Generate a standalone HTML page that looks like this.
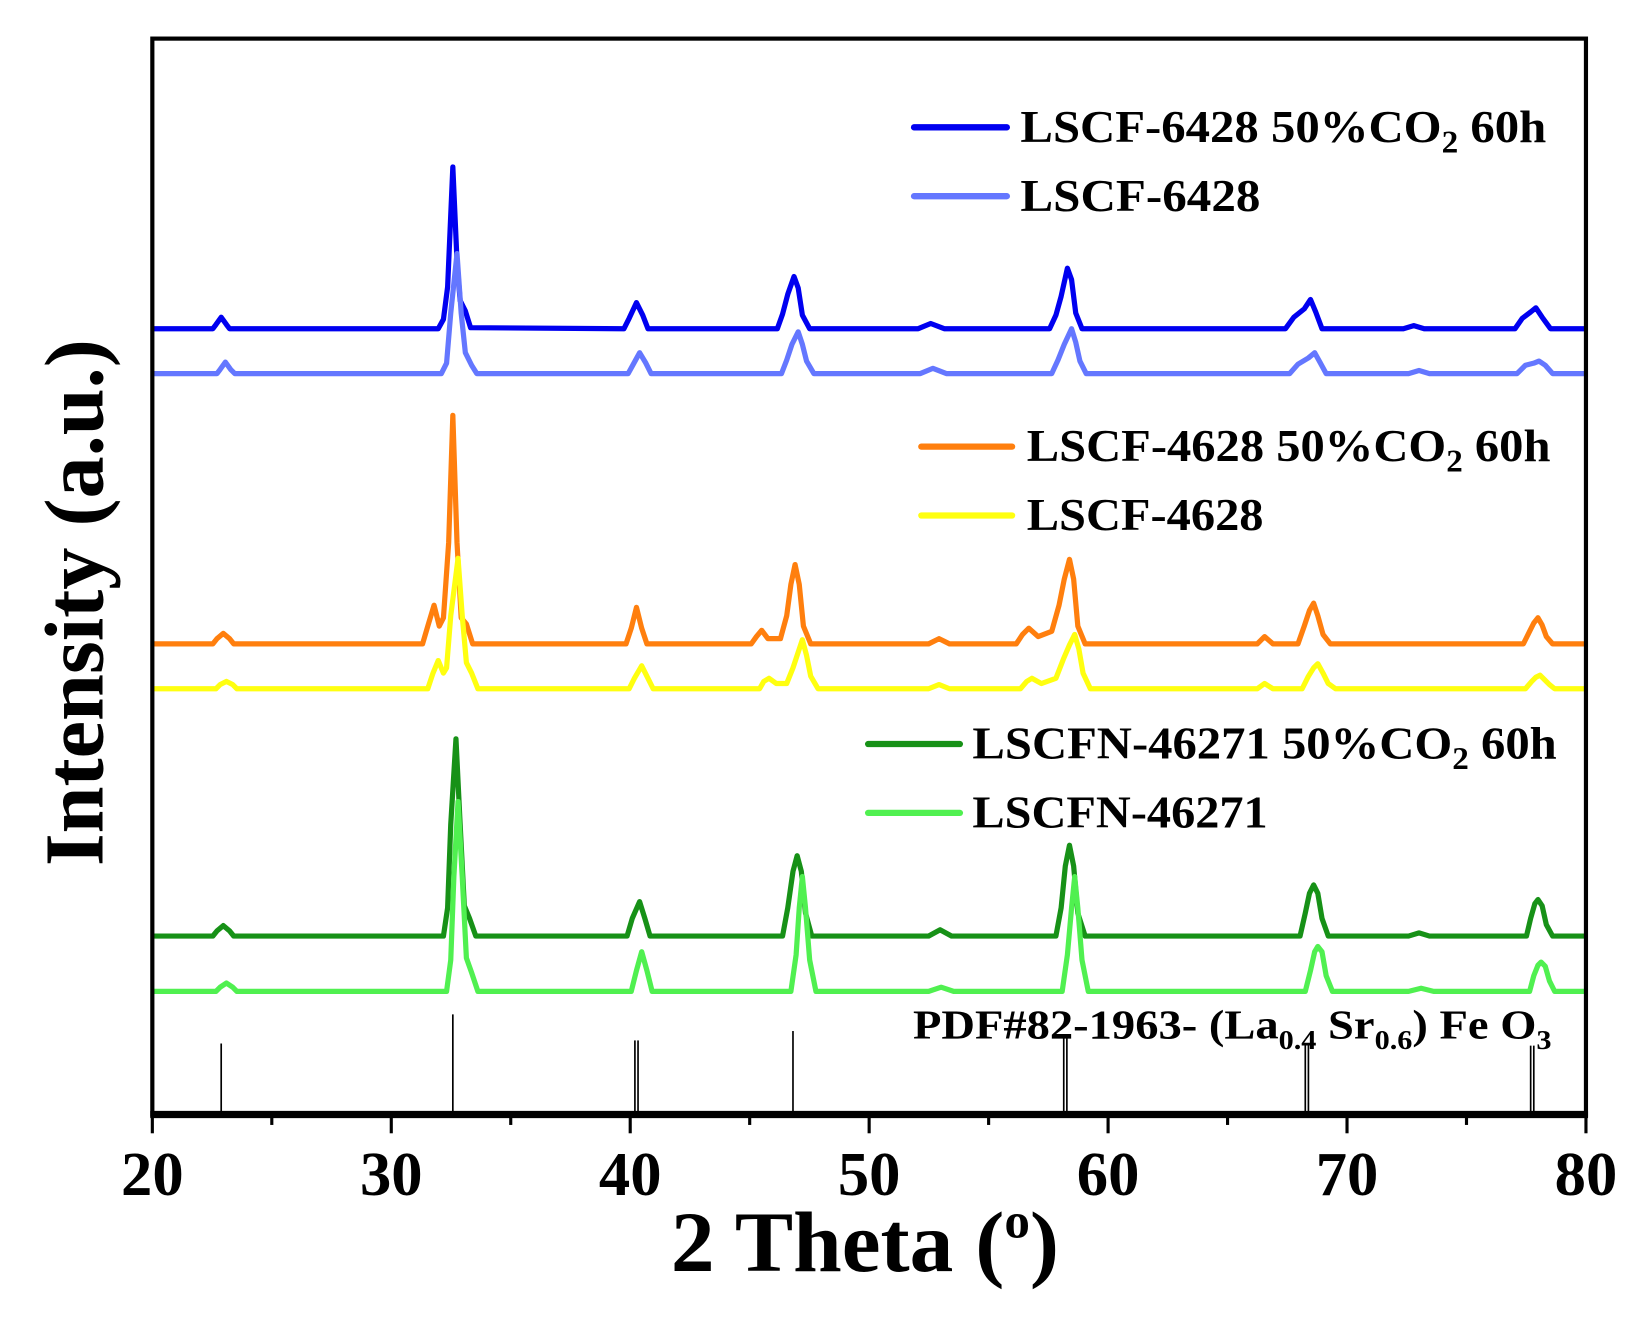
<!DOCTYPE html>
<html><head><meta charset="utf-8"><style>
html,body{margin:0;padding:0;background:#fff;}
svg{display:block;}
text{font-family:"Liberation Serif",serif;font-weight:bold;fill:#000;}
</style></head><body>
<svg width="1635" height="1318" viewBox="0 0 1567 1263" preserveAspectRatio="none" xmlns="http://www.w3.org/2000/svg">
<g fill="none" stroke-width="5" stroke-linejoin="round">
<path stroke="#0000f0" d="M146,315 L204,315 207,311 212,304 217,311 220,315 L420,315 425,306 429,275 434,160 438,250 441,288 446,298 451,314 L598,315 603,305 610,290 616,302 621,315 L745,315 750,301 755,282 761,265 765,276 769,302 776,315 L880,315 892,310 905,315 L1006,315 1012,302 1017,284 1023,257 1027,268 1031,300 1037,315 L1232,315 1240,304 1250,296 1256,287 1261,299 1267,315 L1345,315 1355,312 1365,315 L1452,315 1459,305 1467,299 1472,295 1478,304 1486,315 L1520,315"/>
<path stroke="#6477ff" d="M146,358 L208,358 211,354 216,347 221,354 225,358 L423,358 428,348 432,300 438,243 442,300 446,338 452,350 457,358 L602,358 607,349 613,338 619,348 624,358 L749,358 754,345 759,330 765,318 769,330 773,346 780,358 L882,358 894,353 907,358 L1008,358 1014,345 1020,330 1027,315 1031,328 1035,346 1041,358 L1236,358 1244,349 1254,343 1260,338 1265,347 1271,358 L1350,358 1360,355 1370,358 L1454,358 1462,350 1470,348 1475,346 1481,350 1488,358 L1520,358"/>
<path stroke="#ff7f0e" d="M146,617 L204,617 208,612 214,607 220,612 224,617 L405,617 410,600 416,580 421,600 425,592 430,520 434,398 438,520 442,592 447,598 453,617 L600,617 605,602 610,582 615,602 620,617 L720,617 725,610 730,604 736,612 748,612 754,590 758,560 762,541 766,560 770,600 777,617 L890,617 900,612 910,617 L974,617 980,608 986,602 995,610 1008,605 1015,580 1020,555 1025,536 1029,555 1033,600 1040,617 L1205,617 1212,610 1220,617 L1244,617 1250,600 1255,585 1259,578 1263,590 1268,608 1275,617 L1460,617 1466,605 1470,597 1474,592 1478,599 1482,610 1488,617 L1520,617"/>
<path stroke="#ffff10" d="M146,660 L207,660 211,656 217,653 223,656 227,660 L410,660 415,645 420,633 425,645 428,640 432,590 439,535 443,590 447,635 452,645 458,660 L603,660 608,650 615,638 621,650 626,660 L728,660 732,653 737,650 744,655 754,655 760,640 765,625 769,613 773,628 777,648 784,660 L890,660 900,656 910,660 L978,660 984,653 989,650 998,655 1012,650 1019,632 1025,618 1030,608 1034,622 1038,645 1045,660 L1205,660 1212,655 1220,660 L1248,660 1254,648 1259,640 1263,636 1268,645 1273,655 1280,660 L1462,660 1468,653 1472,649 1476,647 1480,651 1485,656 1490,660 L1520,660"/>
<path stroke="#179117" d="M146,897 L204,897 208,892 214,887 220,892 224,897 L425,897 429,870 432,790 437,708 441,790 445,868 450,880 456,897 L601,897 606,880 613,864 618,880 623,897 L750,897 755,870 760,835 764,820 768,835 772,875 778,897 L890,897 901,891 912,897 L1012,897 1017,870 1021,830 1025,810 1029,830 1033,875 1040,897 L1246,897 1251,875 1255,856 1259,848 1263,856 1267,880 1273,897 L1350,897 1360,894 1370,897 L1463,897 1467,880 1471,866 1474,862 1478,868 1482,886 1488,897 L1520,897"/>
<path stroke="#50f050" d="M146,950 L207,950 211,946 217,942 223,946 227,950 L428,950 432,920 435,840 439,768 443,840 447,918 452,932 458,950 L605,950 610,930 615,912 620,930 625,950 L758,950 763,915 766,870 769,840 772,870 776,920 782,950 L890,950 902,946 914,950 L1018,950 1023,915 1027,870 1030,840 1033,870 1037,920 1043,950 L1251,950 1256,930 1260,912 1263,907 1267,912 1271,935 1277,950 L1350,950 1362,947 1374,950 L1466,950 1470,935 1474,925 1477,922 1481,926 1485,940 1490,950 L1520,950"/>
</g>
<g stroke="#000" stroke-width="1.6">
<line x1="212" y1="1068" x2="212" y2="1000"/>
<line x1="434" y1="1068" x2="434" y2="972"/>
<line x1="608.5" y1="1068" x2="608.5" y2="997"/><line x1="611.5" y1="1068" x2="611.5" y2="997"/>
<line x1="760" y1="1068" x2="760" y2="988"/>
<line x1="1019.5" y1="1068" x2="1019.5" y2="995"/><line x1="1022.5" y1="1068" x2="1022.5" y2="995"/>
<line x1="1251" y1="1068" x2="1251" y2="1000"/><line x1="1254" y1="1068" x2="1254" y2="1000"/>
<line x1="1467" y1="1068" x2="1467" y2="1002"/><line x1="1470" y1="1068" x2="1470" y2="1002"/>
</g>
<rect x="146" y="37" width="1374" height="1031" fill="none" stroke="#000" stroke-width="4"/>
<line x1="144" y1="1068" x2="1522" y2="1068" stroke="#000" stroke-width="7"/>
<g stroke="#000" stroke-width="3">
<line x1="146" y1="1068" x2="146" y2="1086"/><line x1="260.5" y1="1068" x2="260.5" y2="1078"/>
<line x1="375" y1="1068" x2="375" y2="1086"/><line x1="489.5" y1="1068" x2="489.5" y2="1078"/>
<line x1="604" y1="1068" x2="604" y2="1086"/><line x1="718.5" y1="1068" x2="718.5" y2="1078"/>
<line x1="833" y1="1068" x2="833" y2="1086"/><line x1="947.5" y1="1068" x2="947.5" y2="1078"/>
<line x1="1062" y1="1068" x2="1062" y2="1086"/><line x1="1176.5" y1="1068" x2="1176.5" y2="1078"/>
<line x1="1291" y1="1068" x2="1291" y2="1086"/><line x1="1405.5" y1="1068" x2="1405.5" y2="1078"/>
<line x1="1520" y1="1068" x2="1520" y2="1086"/>
</g>
<g font-size="60" text-anchor="middle">
<text x="146" y="1145">20</text><text x="375" y="1145">30</text><text x="604" y="1145">40</text>
<text x="833" y="1145">50</text><text x="1062" y="1145">60</text><text x="1291" y="1145">70</text><text x="1520" y="1145">80</text>
</g>
<text x="643" y="1218" font-size="82" textLength="372" lengthAdjust="spacingAndGlyphs">2 Theta (<tspan font-size="48" dy="-32">o</tspan><tspan dy="32">)</tspan></text>
<text transform="translate(98,830) rotate(-90)" font-size="80" textLength="505" lengthAdjust="spacingAndGlyphs">Intensity (a.u.)</text>
<g stroke-width="6" stroke-linecap="round">
<line x1="876" y1="122" x2="965" y2="122" stroke="#0000f0"/>
<line x1="876" y1="188" x2="965" y2="188" stroke="#6477ff"/>
<line x1="883" y1="428" x2="970" y2="428" stroke="#ff7f0e"/>
<line x1="883" y1="494" x2="970" y2="494" stroke="#ffff10"/>
<line x1="832" y1="713" x2="920" y2="713" stroke="#179117"/>
<line x1="832" y1="779" x2="920" y2="779" stroke="#50f050"/>
</g>
<g font-size="44">
<text x="978" y="136" textLength="504" lengthAdjust="spacingAndGlyphs">LSCF-6428 50%CO<tspan font-size="30" dy="10">2</tspan><tspan dy="-10"> 60h</tspan></text>
<text x="978" y="202" textLength="230" lengthAdjust="spacingAndGlyphs">LSCF-6428</text>
<text x="984" y="442" textLength="502" lengthAdjust="spacingAndGlyphs">LSCF-4628 50%CO<tspan font-size="30" dy="10">2</tspan><tspan dy="-10"> 60h</tspan></text>
<text x="984" y="508" textLength="227" lengthAdjust="spacingAndGlyphs">LSCF-4628</text>
<text x="932" y="727" textLength="560" lengthAdjust="spacingAndGlyphs">LSCFN-46271 50%CO<tspan font-size="30" dy="10">2</tspan><tspan dy="-10"> 60h</tspan></text>
<text x="932" y="793" textLength="283" lengthAdjust="spacingAndGlyphs">LSCFN-46271</text>
<text x="875" y="995" font-size="40" textLength="612" lengthAdjust="spacingAndGlyphs">PDF#82-1963- (La<tspan font-size="26" dy="10">0.4</tspan><tspan dy="-10"> Sr</tspan><tspan font-size="26" dy="10">0.6</tspan><tspan dy="-10">) Fe O</tspan><tspan font-size="26" dy="10">3</tspan></text>
</g>
</svg>
</body></html>
